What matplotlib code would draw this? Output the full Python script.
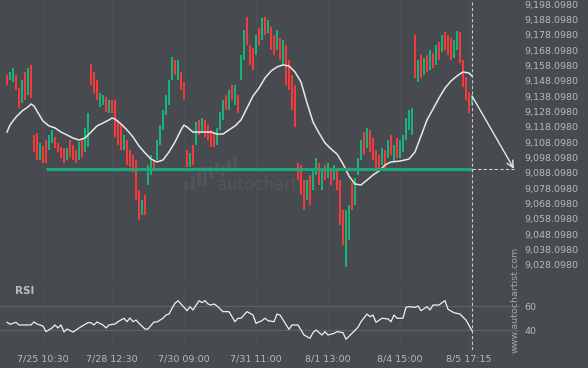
import numpy as np
import matplotlib.pyplot as plt
from matplotlib.patches import Rectangle

# candle data, oldest first (index = bar number)
opens = [9151.8, 9148.6, 9147.3, 9151.8, 9143.3, 9133.6, 9153.8, 9138.8, 9158.4, 9112.7,
         9114.0, 9096.4, 9105.5, 9109.4, 9102.9, 9107.5, 9111.4, 9107.5, 9104.9, 9104.2,
         9096.4, 9109.4, 9106.1, 9102.9, 9096.4, 9109.4, 9101.6, 9104.9, 9159.0, 9153.8,
         9148.6, 9130.9, 9132.3, 9137.5, 9127.0, 9135.5, 9135.5, 9122.5, 9119.2, 9102.9,
         9109.4, 9102.9, 9099.6, 9096.4, 9076.8, 9060.5, 9073.5, 9080.1, 9086.6, 9096.4,
         9096.4, 9106.1, 9116.0, 9125.7, 9132.3, 9148.6, 9161.6, 9148.6, 9153.8, 9147.3,
         9102.9, 9091.8, 9106.1, 9106.1, 9122.5, 9114.6, 9122.5, 9119.2, 9116.0, 9114.0,
         9106.1, 9116.0, 9122.5, 9138.8, 9129.0, 9145.3, 9132.3, 9138.8, 9148.6, 9161.6,
         9189.7, 9171.4, 9169.4, 9164.9, 9182.5, 9174.7, 9189.7, 9179.2, 9183.1, 9177.9,
         9168.1, 9175.9, 9158.4, 9171.4, 9161.6, 9151.8, 9145.3, 9094.4, 9093.1, 9083.3,
         9070.3, 9086.6, 9076.8, 9086.6, 9094.4, 9076.8, 9093.1, 9084.7, 9091.2, 9083.3,
         9091.2, 9083.3, 9063.8, 9026.6, 9044.2, 9081.4, 9067.0, 9086.6, 9096.4, 9114.6,
         9104.2, 9116.0, 9110.7, 9102.9, 9099.6, 9093.1, 9102.9, 9097.7, 9112.7, 9095.1,
         9110.7, 9097.7, 9101.6, 9109.4, 9116.0, 9112.7, 9177.9, 9147.3, 9164.9, 9151.8,
         9164.9, 9155.1, 9166.2, 9158.4, 9173.4, 9166.8, 9179.9, 9177.9, 9175.9, 9162.9,
         9168.1, 9179.9, 9161.6, 9150.5, 9140.7, 9132.3]
closes = [9145.3, 9153.8, 9156.4, 9142.0, 9130.3, 9148.6, 9135.5, 9156.4, 9136.8, 9101.6,
          9096.4, 9107.5, 9094.4, 9094.4, 9112.7, 9116.0, 9104.2, 9101.6, 9097.7, 9094.4,
          9104.2, 9098.3, 9096.4, 9094.4, 9108.1, 9098.3, 9117.3, 9127.0, 9145.3, 9140.1,
          9135.5, 9140.1, 9138.8, 9127.7, 9135.5, 9127.0, 9111.4, 9106.1, 9102.9, 9112.7,
          9093.1, 9091.8, 9088.6, 9070.3, 9057.2, 9070.3, 9060.5, 9093.1, 9099.6, 9089.9,
          9109.4, 9119.2, 9129.0, 9138.8, 9148.6, 9163.6, 9151.8, 9161.6, 9142.0, 9135.5,
          9091.8, 9101.0, 9093.1, 9121.2, 9112.7, 9123.8, 9111.4, 9109.4, 9104.9, 9104.9,
          9117.3, 9127.7, 9135.5, 9129.0, 9142.0, 9135.5, 9145.3, 9127.0, 9164.9, 9181.2,
          9171.4, 9158.4, 9155.1, 9177.9, 9171.4, 9189.0, 9177.9, 9187.7, 9168.1, 9164.9,
          9181.2, 9161.6, 9174.7, 9145.3, 9142.0, 9129.0, 9117.9, 9083.3, 9073.5, 9063.8,
          9083.3, 9067.0, 9089.9, 9097.7, 9080.1, 9089.9, 9083.3, 9094.4, 9080.1, 9093.1,
          9076.8, 9054.0, 9040.9, 9063.8, 9067.0, 9063.8, 9084.7, 9097.7, 9109.4, 9099.6,
          9117.3, 9101.6, 9096.4, 9089.9, 9088.6, 9104.2, 9089.9, 9109.4, 9099.6, 9106.1,
          9097.7, 9109.4, 9112.7, 9123.8, 9129.0, 9130.3, 9149.9, 9161.6, 9149.9, 9162.9,
          9153.8, 9168.1, 9156.4, 9171.4, 9161.6, 9177.9, 9168.1, 9164.9, 9161.6, 9174.7,
          9180.5, 9159.7, 9144.0, 9135.5, 9127.0, 9138.2]

# moving average (bar index, price)
ma_idx = [0, 1, 3, 5, 7, 8, 9, 10, 12, 14, 16, 18, 20, 22, 24, 26, 28, 30, 32, 34,
          35, 36, 38, 40, 42, 44, 46, 48, 50, 52, 54, 56, 58, 59, 60, 62, 64, 66, 68, 70,
          72, 74, 76, 78, 80, 82, 84, 86, 88, 90, 92, 94, 96, 98, 100, 102, 104, 106, 108, 110,
          112, 114, 116, 118, 120, 122, 124, 126, 128, 131, 134, 136, 138, 140, 142, 144, 146, 148, 150, 152,
          154, 155]
ma_vals = [9114.6, 9119.2, 9124.4, 9128.3, 9131.0, 9132.9, 9131.6, 9128.3, 9121.8, 9118.6,
           9117.3, 9114.6, 9112.7, 9110.7, 9109.4, 9110.7, 9114.6, 9118.6, 9120.5, 9122.5,
           9123.8, 9123.1, 9119.9, 9116.0, 9111.4, 9105.5, 9101.0, 9097.0, 9095.1, 9096.4,
           9101.6, 9108.1, 9116.0, 9119.2, 9117.9, 9114.6, 9114.6, 9114.6, 9114.6, 9113.3,
           9113.3, 9116.0, 9118.6, 9122.5, 9130.3, 9138.1, 9143.3, 9149.9, 9154.4, 9157.1,
           9158.4, 9157.7, 9153.8, 9147.3, 9133.6, 9121.2, 9114.0, 9107.5, 9103.6, 9100.3,
           9093.8, 9085.9, 9080.7, 9080.1, 9083.3, 9086.6, 9089.2, 9093.1, 9095.1, 9095.7,
           9097.0, 9101.6, 9112.0, 9122.5, 9129.6, 9136.8, 9143.3, 9147.9, 9151.2, 9153.8,
           9153.1, 9151.2]

# RSI (bar index, value)
rsi_idx = [0, 1, 3, 4, 8, 9, 10, 12, 13, 15, 16, 17, 18, 19, 20, 22, 24, 27, 28, 29,
           30, 32, 33, 34, 36, 37, 39, 40, 41, 42, 43, 44, 46, 47, 49, 50, 52, 53, 54, 55,
           56, 57, 58, 60, 61, 62, 64, 65, 66, 67, 68, 69, 70, 72, 74, 76, 77, 78, 80, 82,
           83, 85, 86, 87, 89, 90, 91, 94, 95, 97, 99, 101, 102, 103, 105, 106, 107, 109, 110, 112,
           113, 115, 117, 118, 120, 121, 122, 123, 125, 127, 128, 129, 130, 132, 133, 134, 136, 137, 138, 140,
           141, 142, 144, 145, 146, 147, 149, 151, 153, 155]
rsi_vals = [46.4, 44.8, 46.4, 44.2, 44.2, 46.7, 45.0, 43.3, 38.6, 41.7, 44.2, 41.7, 44.2, 38.3, 40.8,
            38.3, 41.7, 46.1, 46.1, 44.2, 46.7, 44.2, 41.7, 44.2, 45.0, 46.9, 49.8, 46.9, 50.0, 46.9,
            48.3, 45.6, 40.8, 40.8, 46.7, 46.7, 49.8, 52.5, 53.3, 58.1, 62.3, 64.4, 61.7, 56.1, 59.4,
            56.7, 64.4, 62.8, 64.4, 61.7, 60.8, 61.7, 60.0, 55.3, 55.3, 46.9, 49.8, 49.8, 55.3, 52.5,
            45.6, 47.8, 49.8, 47.8, 46.9, 53.3, 52.5, 40.6, 44.2, 44.2, 35.8, 33.1, 37.8, 40.0, 35.8,
            38.6, 35.8, 37.2, 38.6, 37.8, 32.3, 37.2, 42.3, 46.9, 53.3, 51.1, 52.5, 46.4, 49.8, 49.2,
            46.9, 52.5, 49.8, 49.8, 58.9, 59.4, 58.9, 60.0, 56.1, 59.4, 56.7, 60.8, 60.8, 62.8, 64.4,
            57.3, 54.4, 53.3, 48.3, 39.4]

level = 9090.6          # support line
level_start = 13        # bar where the line starts
target_idx = 169        # where the forecast arrow ends

price_ticks = [9028.098, 9038.098, 9048.098, 9058.098, 9068.098, 9078.098, 9088.098, 9098.098, 9108.098,
               9118.098, 9128.098, 9138.098, 9148.098, 9158.098, 9168.098, 9178.098, 9188.098, 9198.098]
time_idx = [12, 35, 59, 83, 107, 131, 154]
time_labels = ['7/25 10:30', '7/28 12:30', '7/30 09:00', '7/31 11:00', '8/1 13:00', '8/4 15:00', '8/5 17:15']

bg = '#474a4f'
txt = '#b6bac0'
green = '#19b27b'
red = '#f43a3a'

W, H = 588., 368.
fig = plt.figure(figsize=(5.88, 3.68), dpi=100, facecolor=bg)

# main price panel: pixels 0..520 wide, 0..283 tall
ax = fig.add_axes([0, 1 - 283 / H, 520 / W, 283 / H], facecolor=bg)
# rsi panel
ax2 = fig.add_axes([0, 1 - 350 / H, 520 / W, 66 / H], facecolor=bg, sharex=ax)

idx = np.arange(len(opens))
o = np.array(opens)
c = np.array(closes)
cols = np.where(c >= o, green, red)
ax.bar(idx, c - o, bottom=o, width=0.55, color=cols, linewidth=0, zorder=3)

ax.plot(ma_idx, ma_vals, color='#e8e8e8', lw=1.1, zorder=4)

ax.plot([level_start, idx[-1]], [level, level], color='#22a57c', lw=2.3, zorder=5, solid_capstyle='butt')
ax.plot([idx[-1], target_idx], [level, level], color='#d0d0d0', lw=0.8, ls=(0, (3, 2)), zorder=5)
ax.annotate('', xy=(target_idx, level), xytext=(idx[-1], closes[-1]),
            arrowprops=dict(arrowstyle='->', color='#e6e6e6', lw=1.0, mutation_scale=12,
                            shrinkA=0, shrinkB=0), zorder=6)

for a in (ax, ax2):
    a.axvline(idx[-1], color='#c8c8c8', lw=0.8, ls=(0, (3, 2)), zorder=5)
    for t in time_idx:
        a.axvline(t, color='#4d5055', lw=0.6, zorder=1)
    for s in a.spines.values():
        s.set_visible(False)

# watermark
ax.text(217 / 520, 1 - 185 / 283, 'autochartist', transform=ax.transAxes, fontsize=12,
        color='#52555a', va='center', ha='left', zorder=2)
for bx, top, bot in [(184, 182, 190), (191, 176, 190), (197, 172, 186), (203, 167, 187),
                     (209, 166, 178), (215, 162, 174), (221, 164, 176), (227, 160, 172), (233, 157, 167)]:
    ax.add_patch(Rectangle((bx / 520, 1 - bot / 283), 3.5 / 520, (bot - top) / 283,
                           transform=ax.transAxes, color='#51545a', lw=0, zorder=2))

ax.set_xlim(-7 / 3., (520 - 7) / 3.)
ax.set_ylim(9200.75 - 0.6523 * 283, 9200.75)
ax.yaxis.tick_right()
ax.set_yticks(price_ticks)
ax.set_yticklabels(['{:,.4f}'.format(p) for p in price_ticks])
ax.tick_params(axis='y', length=0, pad=3, labelsize=6.8, labelcolor=txt)
ax.tick_params(axis='x', length=0, labelbottom=False)

ax2.plot(rsi_idx, rsi_vals, color='#f0f0f0', lw=0.9, zorder=4)
ax2.axhline(60, color='#5e6166', lw=0.8, zorder=2)
ax2.axhline(40, color='#5e6166', lw=0.8, zorder=2)
ax2.set_ylim(40 - 20 / 1.2, 40 + 46 / 1.2)
ax2.yaxis.tick_right()
ax2.set_yticks([40, 60])
ax2.set_yticklabels(['40', '60'])
ax2.tick_params(axis='y', length=0, pad=3, labelsize=6.8, labelcolor=txt)
ax2.set_xticks(time_idx)
ax2.set_xticklabels(time_labels)
ax2.tick_params(axis='x', length=0, pad=3, labelsize=6.8, labelcolor=txt)

fig.text(15 / W, 1 - 291 / H, 'RSI', fontsize=7.5, fontweight='bold', color='#b9bdc2', va='center')
fig.text(515 / W, 1 - 300 / H, 'www.autochartist.com', rotation=90, fontsize=6.8,
         color='#a3a7ac', va='center', ha='center')

fig.savefig('out.png', dpi=100, facecolor=bg)
